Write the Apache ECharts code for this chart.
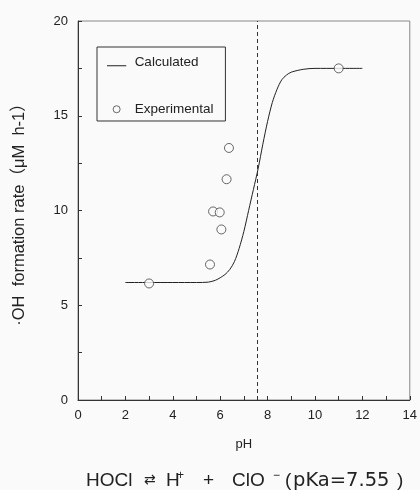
<!DOCTYPE html>
<html>
<head>
<meta charset="utf-8">
<script src="https://cdn.jsdelivr.net/npm/echarts@6/dist/echarts.min.js"></script>
<style>
  html, body { margin: 0; padding: 0; background: #fafafa; }
  #chart { width: 420px; height: 490px; }
</style>
</head>
<body>
<div id="chart"></div>
<script>
// calculated curve
const calcPH = [2, 3, 4, 5, 5.5, 5.8, 6.0, 6.2, 6.4, 6.6, 6.8, 7.0, 7.2, 7.4, 7.6, 7.8, 8.0, 8.2, 8.4, 8.6, 8.8, 9.0, 9.5, 10, 11, 12];
const calcRate = [6.2, 6.2, 6.2, 6.2, 6.22, 6.32, 6.45, 6.62, 6.88, 7.3, 8.0, 8.9, 10.0, 11.1, 12.2, 13.5, 14.7, 15.7, 16.4, 16.9, 17.15, 17.3, 17.45, 17.5, 17.5, 17.5];

// experimental points
const expPH = [3.0, 5.57, 5.7, 5.98, 6.05, 6.27, 6.37, 11.0];
const expRate = [6.15, 7.15, 9.95, 9.9, 9.0, 11.65, 13.3, 17.5];

const pKa = 7.55;

const font = '"Liberation Sans", Arial, "Noto Sans CJK JP", sans-serif';
const ink = '#222';
const chart = echarts.init(document.getElementById('chart'));

// equation under the chart, laid out token by token
const eqStyle = (size, w, extra) => Object.assign({ fontSize: size, fontFamily: font, color: ink, fontWeight: 'normal', width: w }, extra || {});

const option = {
  backgroundColor: '#fafafa',
  animation: false,
  title: {
    text: '{a|HOCl}{b|⇄}{h|H}{s|+}{c|+}{d|ClO}{m|−}{l|(}{k|pKa=7.55}{r|)}',
    left: 86,
    top: 470,
    padding: 0,
    textStyle: {
      fontWeight: 'normal',
      rich: {
        a: eqStyle(19, 58),
        b: eqStyle(14, 22, { fontFamily: '"DejaVu Sans"' }),
        h: eqStyle(19, 11),
        s: eqStyle(12, 26, { verticalAlign: 'top', padding: [0, 0, 7, 0] }),
        c: eqStyle(19, 29),
        d: eqStyle(19, 41),
        m: eqStyle(12, 12, { verticalAlign: 'top', padding: [0, 0, 9, 0] }),
        l: eqStyle(19, 8),
        k: eqStyle(19.5, 104, { fontFamily: '"DejaVu Sans"' }),
        r: eqStyle(19, 10)
      }
    }
  },
  grid: {
    left: 78, right: 8, top: 21, bottom: 90,
    show: true,
    borderColor: '#888',
    borderWidth: 1
  },
  legend: {
    orient: 'vertical',
    left: 97,
    top: 47,
    padding: [9, 12, 5, 10],
    itemGap: 33,
    itemWidth: 22,
    itemHeight: 7,
    borderColor: '#333',
    borderWidth: 1,
    textStyle: { fontSize: 13.5, fontFamily: font, color: ink, padding: [0, 0, 0, 2] },
    data: [
      { name: 'Calculated', icon: 'path://M0,0L0.05,0L0.05,0.05Z M0,7L22,7L22,8L0,8Z', itemStyle: { color: ink } },
      { name: 'Experimental', icon: 'circle', itemStyle: { color: '#fafafa', borderColor: '#444', borderWidth: 1 } }
    ]
  },
  xAxis: {
    type: 'value',
    min: 0, max: 14, interval: 2,
    name: 'pH',
    nameLocation: 'middle',
    nameGap: 38,
    nameTextStyle: { fontSize: 13, fontFamily: font, color: ink },
    axisLine: { lineStyle: { color: '#333', width: 1 } },
    axisTick: { inside: true, length: 4, lineStyle: { color: '#333' } },
    minorTick: { show: true, splitNumber: 2, length: 4, lineStyle: { color: '#333' } },
    axisLabel: { fontSize: 13, fontFamily: font, color: ink, margin: 9 },
    splitLine: { show: false }
  },
  yAxis: {
    type: 'value',
    min: 0, max: 20, interval: 5,
    name: '·OH  formation rate（μM  h-1）',
    nameLocation: 'middle',
    nameGap: 50,
    nameTextStyle: { fontSize: 16.5, fontFamily: font, color: ink },
    axisLine: { show: true, lineStyle: { color: '#333', width: 1 } },
    axisTick: { show: true, inside: true, length: 4, lineStyle: { color: '#333' } },
    minorTick: { show: true, splitNumber: 2, length: 4, lineStyle: { color: '#333' } },
    axisLabel: { fontSize: 13, fontFamily: font, color: ink, margin: 10 },
    splitLine: { show: false }
  },
  series: [
    {
      name: 'Calculated',
      type: 'line',
      smooth: 0.3,
      symbol: 'none',
      data: calcPH.map((x, i) => [x, calcRate[i]]),
      lineStyle: { color: ink, width: 1 },
      itemStyle: { color: ink },
      markLine: {
        silent: true,
        symbol: 'none',
        label: { show: false },
        lineStyle: { color: '#333', type: [4, 3], width: 1 },
        data: [{ xAxis: pKa }]
      },
      z: 2
    },
    {
      name: 'Experimental',
      type: 'scatter',
      symbol: 'circle',
      symbolSize: 9,
      data: expPH.map((x, i) => [x, expRate[i]]),
      itemStyle: { color: '#fafafa', borderColor: '#444', borderWidth: 1 },
      z: 3
    }
  ]
};

chart.setOption(option);
</script>
</body>
</html>
